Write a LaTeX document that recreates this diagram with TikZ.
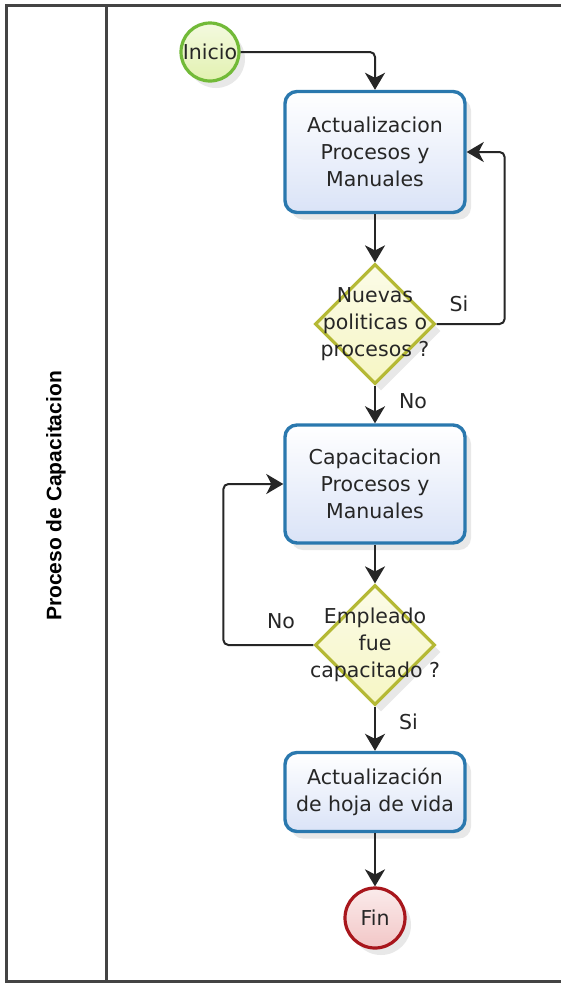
\documentclass[tikz,border=0pt]{standalone}
\usepackage{fontspec}
\setmainfont{DejaVu Sans}
\newfontfamily\poolfont{Liberation Sans}
\usetikzlibrary{arrows.meta,shapes.geometric,shadows}

\definecolor{taskline}{HTML}{2A78AE}
\definecolor{taskfill}{HTML}{DAE3F7}
\definecolor{gateline}{HTML}{B5B935}
\definecolor{gatefill}{HTML}{F6F6C4}
\definecolor{startline}{HTML}{72BA38}
\definecolor{startfill}{HTML}{E2F1B0}
\definecolor{endline}{HTML}{A8161C}
\definecolor{endfill}{HTML}{F2C6C6}
\definecolor{lane}{HTML}{444444}

\tikzset{
  nshadow/.style={drop shadow={opacity=.18,shadow xshift=6pt,shadow yshift=-7pt}},
  task/.style={rectangle,rounded corners=12pt,draw=taskline,line width=3.4pt,
    top color=white,bottom color=taskfill,minimum width=180pt,align=center,nshadow},
  gate/.style={diamond,draw=gateline,line width=3.2pt,top color=gatefill!40,
    bottom color=gatefill,minimum width=120pt,minimum height=120pt,inner sep=0pt,nshadow},
  event/.style={circle,line width=3.2pt,inner sep=0pt,minimum size=58pt,nshadow},
  flow/.style={draw=black!85,line width=2pt,rounded corners=5pt,
    -{Stealth[length=17pt,width=20pt,inset=5pt]}},
  lbl/.style={inner sep=3pt}
}

\begin{document}
\begin{tikzpicture}[x=1pt,y=-1pt,font=\fontsize{20.5}{27}\selectfont,text=black!85]
  \useasboundingbox (0,0) rectangle (561,983);
  \fill[white] (0,0) rectangle (561,983);

  % pool and lane
  \draw[lane,line width=3pt] (6,5) rectangle (570,981);
  \draw[lane,line width=3pt] (106,5) -- (106,981);
  \node[rotate=90,font=\poolfont\bfseries\fontsize{21}{24}\selectfont,text=black]
    (pool) at (56,496) {Proceso de Capacitacion};

  % tasks, gateways and events
  \node[event,draw=startline,top color=startfill!40,bottom color=startfill]
    (inicio) at (210,52) {Inicio};
  \node[task,minimum height=121pt] (act) at (375,152) {Actualizacion\\Procesos y\\Manuales};
  \node[gate,label={[align=center]center:Nuevas\\politicas o\\procesos ?}]
    (q1) at (375,324) {};
  \node[task,minimum height=118pt] (cap) at (375,484) {Capacitacion\\Procesos y\\Manuales};
  \node[gate,label={[align=center]center:Empleado\\fue\\capacitado ?}]
    (q2) at (375,645) {};
  \node[task,minimum height=79pt] (hoja) at (375,792) {Actualización\\de hoja de vida};
  \node[event,minimum size=60pt,draw=endline,top color=endfill!35,bottom color=endfill]
    (fin) at (375,918) {Fin};

  % sequence flows
  \draw[flow] (inicio) -| (act);
  \foreach \from/\to in {act/q1,cap/q2,hoja/fin}
    \draw[flow] (\from) -- (\to);
  \draw[flow] (q1) -- node[lbl,right=20pt,pos=.4] (no1) {No} (cap);
  \draw[flow] (q2) -- node[lbl,right=20pt,pos=.35] (si2) {Si} (hoja);

  % loops back
  \draw[flow] (q1.east) -- node[lbl,above=8pt,pos=.33] (si1) {Si} ++(68,0) |- (act.east);
  \draw[flow] (q2.west) -- node[lbl,above=12pt,pos=.36] (no2) {No} ++(-90,0) |- (cap.west);
\end{tikzpicture}
\end{document}
